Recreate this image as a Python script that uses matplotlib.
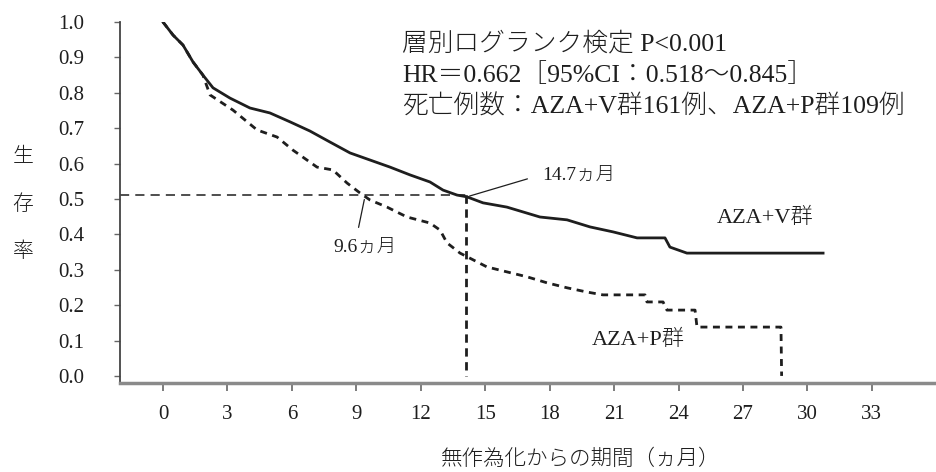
import matplotlib
matplotlib.use("Agg")
import matplotlib.pyplot as plt

# ---- data ----
v_months = [0, 0.47, 0.93, 1.40, 1.86, 2.33, 3.12, 4.05, 4.98, 5.91, 6.84, 7.77,
            8.71, 9.64, 10.57, 11.50, 12.43, 13.04, 13.69, 14.15, 14.90, 16.01,
            17.55, 18.81, 19.88, 20.95, 22.07, 23.37, 23.60, 24.39, 30.73]
v_surv = [1.0, 0.963, 0.935, 0.887, 0.85, 0.814, 0.785, 0.757, 0.743, 0.718, 0.692,
          0.661, 0.63, 0.61, 0.59, 0.568, 0.548, 0.525, 0.511, 0.506, 0.489, 0.477,
          0.449, 0.441, 0.421, 0.407, 0.39, 0.39, 0.364, 0.347, 0.347]

p_months = [0, 0.47, 0.93, 1.40, 1.86, 2.19, 3.26, 4.38, 5.31, 6.05, 7.17, 7.91,
            8.57, 9.17, 9.64, 10.43, 11.36, 12.43, 12.90, 13.22, 13.83, 15.08,
            16.01, 16.95, 17.88, 18.81, 19.74, 20.48, 22.44, 22.53, 23.28, 23.46,
            24.77, 24.86, 28.77, 28.80]
p_surv = [1.0, 0.963, 0.935, 0.887, 0.85, 0.794, 0.751, 0.695, 0.675, 0.638, 0.59,
          0.582, 0.545, 0.517, 0.497, 0.477, 0.449, 0.432, 0.412, 0.376, 0.347,
          0.308, 0.294, 0.28, 0.263, 0.249, 0.237, 0.229, 0.229, 0.209, 0.209,
          0.186, 0.186, 0.138, 0.138, 0.0]

median_level = 0.51
median_v_pos = 14.1
x_ticks = [0, 3, 6, 9, 12, 15, 18, 21, 24, 27, 30, 33]
y_ticks = [0.0, 0.1, 0.2, 0.3, 0.4, 0.5, 0.6, 0.7, 0.8, 0.9, 1.0]

stats_lines = ["層別ログランク検定 P<0.001",
               "HR＝0.662［95%CI：0.518～0.845］",
               "死亡例数：AZA+V群161例、AZA+P群109例"]
label_v = "AZA+V群"
label_p = "AZA+P群"
median_v_text = "14.7ヵ月"
median_p_text = "9.6ヵ月"
ylabel = "生存率"
xlabel = "無作為化からの期間（ヵ月）"

FAM = ["Liberation Serif", "Noto Sans CJK JP", "DejaVu Sans"]
plt.rcParams['font.family'] = FAM
W = 'light'

fig = plt.figure(figsize=(9.36, 4.72), dpi=100)
ax = fig.add_axes([120/936, 89/472, 815/936, 361/472])
ax.set_xlim(-2.0, 35.94)
ax.set_ylim(-0.02, 1.0)

ink = "#1e1e1e"
ax.plot(v_months, v_surv, color=ink, lw=2.0, solid_joinstyle='round')
ax.plot(p_months, p_surv, color=ink, lw=2.0, linestyle=(0, (2.5, 2.0)))

# median reference lines
ax.plot([-2.0, median_v_pos], [median_level, median_level], color=ink, lw=1.1,
        linestyle=(0, (6, 4)))
ax.plot([median_v_pos, median_v_pos], [median_level, 0.0], color=ink, lw=2.0,
        linestyle=(0, (3, 2)))

# annotations
ax.annotate("", xy=(14.15, 0.506), xytext=(17.09, 0.559),
            arrowprops=dict(arrowstyle='-', color=ink, lw=0.9))
ax.text(17.65, 0.568, median_v_text, fontsize=14, ha='left', va='center',
        color=ink, fontweight=W)
ax.annotate("", xy=(9.40, 0.506), xytext=(9.08, 0.412),
            arrowprops=dict(arrowstyle='-', color=ink, lw=0.9))
ax.text(7.91, 0.362, median_p_text, fontsize=14, ha='left', va='center',
        color=ink, fontweight=W)
ax.text(25.8, 0.446, label_v, fontsize=16, ha='left', va='center', color=ink,
        fontweight=W)
ax.text(19.97, 0.102, label_p, fontsize=16, ha='left', va='center', color=ink,
        fontweight=W)

for i, line in enumerate(stats_lines):
    fig.text(402/936, 1 - (44 + 31.5*i)/472, line, fontsize=18.5, ha='left',
             va='center', color=ink, fontweight=W)

# y label: stacked characters
for i, ch in enumerate(ylabel):
    fig.text(23/936, 1 - (158 + 47*i)/472, ch, fontsize=15, ha='center',
             va='center', color=ink, fontweight=W)
fig.text(581/936, 1 - 460/472, xlabel, fontsize=15.5, ha='center', va='center',
         color=ink, fontweight=W)

# axes styling
for s in ['top', 'right']:
    ax.spines[s].set_visible(False)
ax.spines['left'].set_color('#444444')
ax.spines['left'].set_linewidth(1.3)
ax.spines['bottom'].set_color('#8a8a8a')
ax.spines['bottom'].set_linewidth(2.5)
ax.spines['left'].set_bounds(-0.02, 1.0)

ax.set_xticks(x_ticks)
ax.set_xticklabels([str(t) for t in x_ticks])
ax.set_yticks(y_ticks)
ax.set_yticklabels([f"{t:.1f}" for t in y_ticks])
ax.tick_params(axis='x', direction='out', length=6, width=1.2, colors='#666666',
               labelcolor=ink, labelsize=15, pad=10)
ax.tick_params(axis='y', direction='out', length=4, width=1.0, colors='#666666',
               labelcolor=ink, labelsize=15, pad=22)

fig.savefig("out.png", dpi=100, facecolor='white')
